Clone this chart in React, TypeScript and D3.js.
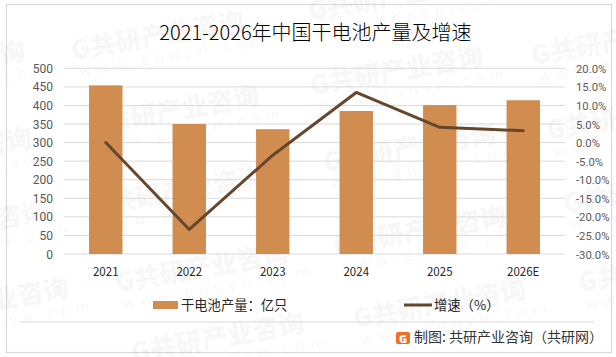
import React from "react";
import * as d3 from "d3";

const categories = ["2021", "2022", "2023", "2024", "2025", "2026E"];
const output = [454, 350, 336, 385, 401, 414];
const growth = [0, -23.4, -3.4, 13.5, 4.1, 3.2];
const leftTicks = [0, 50, 100, 150, 200, 250, 300, 350, 400, 450, 500];
const rightTicks = [-30, -25, -20, -15, -10, -5, 0, 5, 10, 15, 20];
const watermarks: [number, number][] = [
  [73, 60], [88, 135], [312, 95], [533, 65], [548, 140], [310, 20], [-146, 90], [-139, 177],
  [93, 215], [117, 292], [-102, 327], [-124, 250], [133, 362], [355, 328], [335, 255], [325, 172], [565, 213], [580, 292],
];

const font = "'Noto Sans CJK SC','Noto Sans',sans-serif";
const x = d3.scaleBand<string>().domain(categories).range([64, 565]).paddingInner(0.6).paddingOuter(0.3);
const yL = d3.scaleLinear().domain([0, 500]).range([254, 68.3]);
const yR = d3.scaleLinear().domain([-30, 20]).range([254, 68.3]);
const line = d3.line<number>().x((_, i) => x(categories[i])! + x.bandwidth() / 2).y((d) => yR(d));

function Watermark({ px, py }: { px: number; py: number }) {
  return (
    <g transform={`translate(${px},${py}) rotate(-10)`} fill="#000" fillOpacity={0.05} fontFamily={font}>
      <text x={0} y={0} fontSize={26} fontWeight={900}>G共研产业咨询</text>
      <text x={4} y={18} fontSize={15} letterSpacing={6} fontFamily="'Open Sans',sans-serif">www.gonyn.com</text>
    </g>
  );
}

export default function App() {
  return (
    <svg width={616} height={357} style={{ position: "absolute", left: 0, top: 0, background: "#fff" }}>
      <rect x={6.5} y={4.5} width={605} height={348} fill="#fff" stroke="#d9d9d9" strokeWidth={1.2} />
      {watermarks.map(([a, b], i) => <Watermark key={i} px={a} py={b} />)}
      {leftTicks.map((t) => (
        <line key={t} x1={64} x2={565} y1={yL(t)} y2={yL(t)} stroke="#d9d9d9" strokeWidth={1} />
      ))}
      {output.map((v, i) => (
        <rect key={i} x={x(categories[i])!} y={yL(v)} width={x.bandwidth()} height={yL(0) - yL(v)} fill="#d18c4f" />
      ))}
      <path d={line(growth)!} fill="none" stroke="#65472e" strokeWidth={3} strokeLinecap="round" strokeLinejoin="round" />
      <g fontFamily="Roboto,sans-serif" fontSize={12} fill="#595959">
        {leftTicks.map((t) => (
          <text key={t} x={53} y={yL(t) + 4.5} textAnchor="end">{t}</text>
        ))}
      </g>
      <g fontFamily="Roboto,sans-serif" fontSize={11.3} fill="#595959">
        {rightTicks.map((t) => (
          <text key={t} x={t < 0 ? 576 : 576} y={yR(t) + 4.5}>{t.toFixed(1)}%</text>
        ))}
      </g>
      <g fontFamily={font} fontSize={11.5} fill="#262626">
        {categories.map((c) => (
          <text key={c} x={x(c)! + x.bandwidth() / 2} y={276} textAnchor="middle">{c}</text>
        ))}
      </g>
      <text x={315.5} y={40} textAnchor="middle" fontFamily={font} fontSize={20} fontWeight={300} fill="#000">2021-2026年中国干电池产量及增速</text>
      <rect x={153} y={301} width={25} height={8} fill="#d18c4f" />
      <text x={181} y={310} fontFamily={font} fontSize={13.3} fill="#262626">干电池产量：亿只</text>
      <line x1={404} x2={432} y1={305} y2={305} stroke="#65472e" strokeWidth={3} />
      <text x={434} y={310} fontFamily={font} fontSize={13.3} fill="#262626">增速（%）</text>
      <line x1={19} x2={594} y1={322} y2={322} stroke="#d9d9d9" strokeWidth={1} />
      <rect x={396} y={332} width={14} height={12} rx={2} fill="#f0702a" />
      <text x={403} y={342.5} textAnchor="middle" fontFamily="'Open Sans',sans-serif" fontWeight={800} fontSize={11} fill="#fff">G</text>
      <text x={414} y={342} fontFamily={font} fontSize={14} fill="#333">制图: 共研产业咨询（共研网）</text>
    </svg>
  );
}
